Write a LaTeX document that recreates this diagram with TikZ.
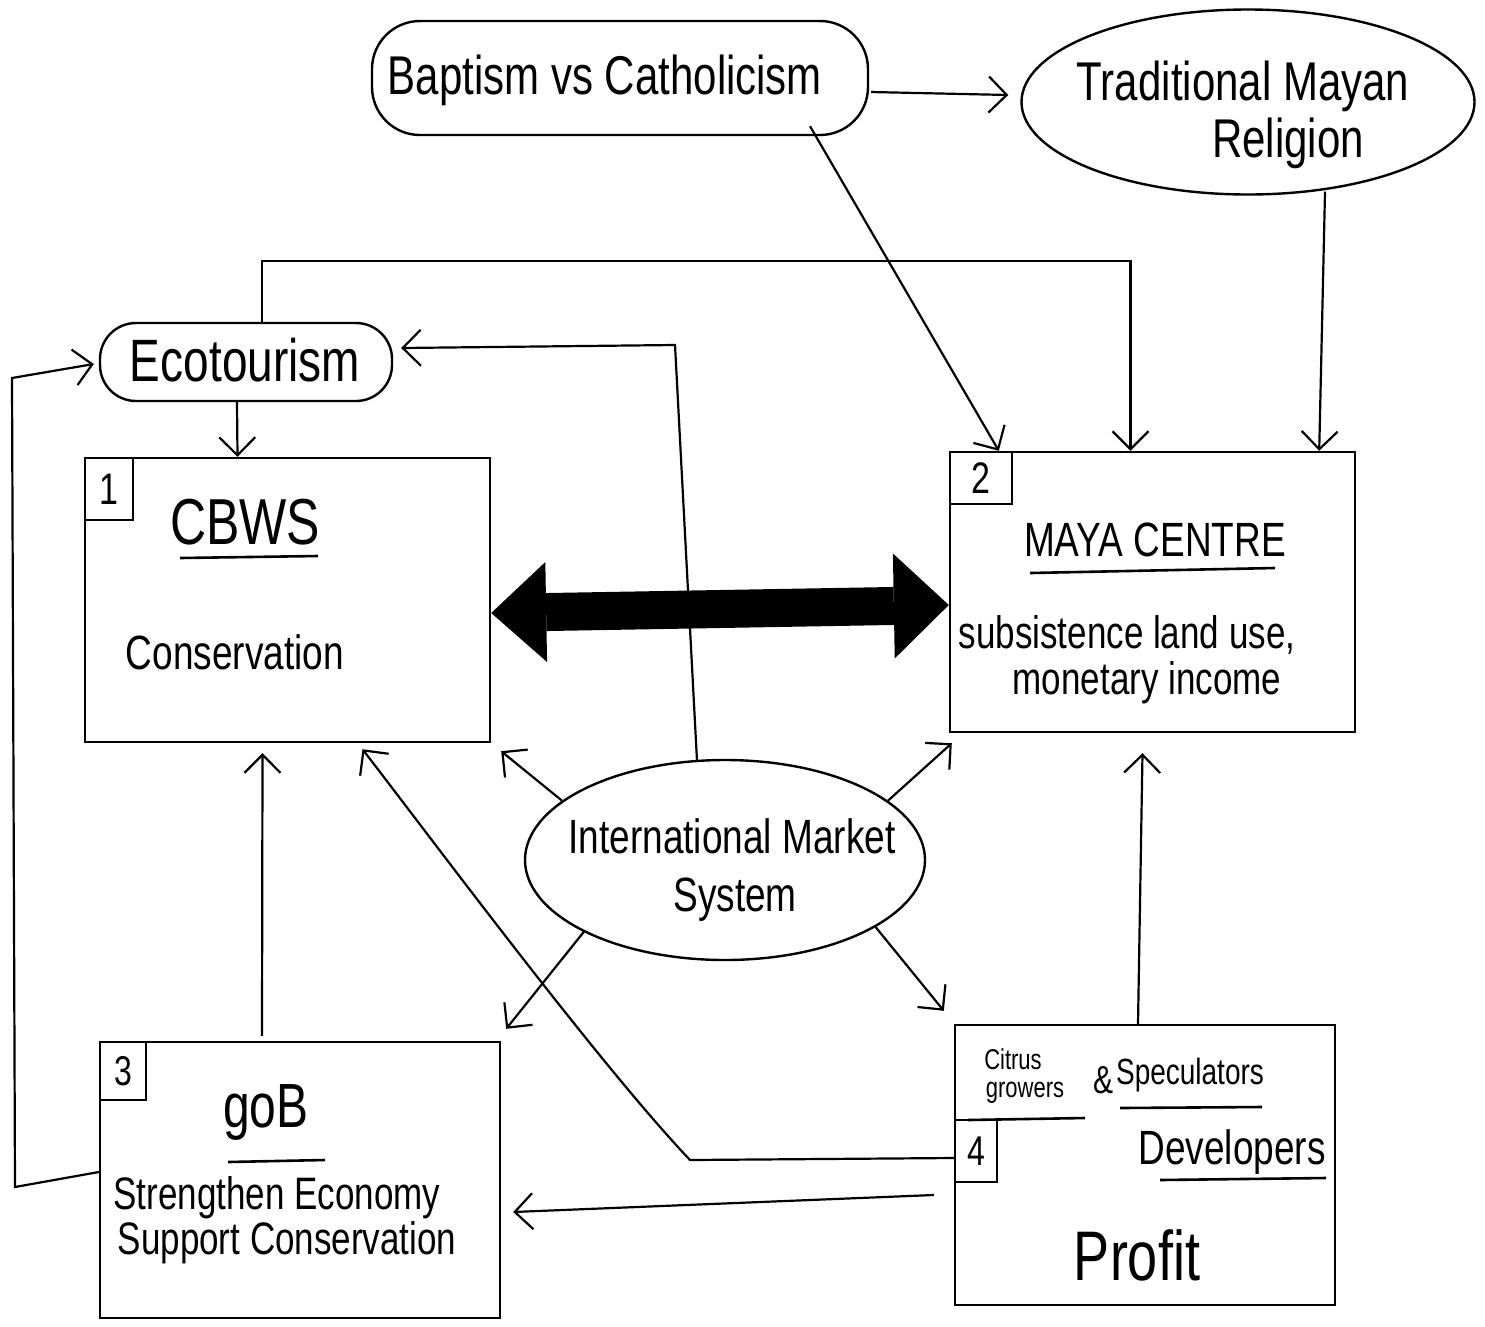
\documentclass[tikz,border=0pt]{standalone}
\usepackage{fontspec}
\usepackage{graphicx}
\setmainfont{Liberation Sans}
\usetikzlibrary{arrows.meta,shapes.geometric,calc}
\newcommand{\hw}[2]{{\fontsize{#1pt}{#1pt}\selectfont\scalebox{1}[1.3]{#2}}}
\begin{document}
\begin{tikzpicture}[x=1pt,y=-1pt,
  line width=2.4pt,
  box/.style={draw, rectangle, inner sep=0pt, line width=2.4pt},
  blob/.style={draw, inner sep=0pt, line width=2.4pt},
  numbox/.style={draw, rectangle, inner sep=0pt, line width=2.2pt},
  arr/.style={-{Straight Barb[length=18pt,width=36pt]}, line width=2.2pt},
  txt/.style={inner sep=0pt},
  uline/.style={line width=2.6pt}]
\useasboundingbox (0,0) rectangle (1485,1326);

% ovals
\node[blob, rectangle, rounded corners=48pt, minimum width=496pt, minimum height=114pt] (bap) at (620,78) {};
\node[txt] (bapT) at (605,80) {\hw{42}{Baptism vs Catholicism}};
\node[blob, ellipse, minimum width=453pt, minimum height=185pt] (trad) at (1248,102) {};
\node[txt] (tradT1) at (1243,86) {\hw{42}{Traditional Mayan}};
\node[txt] (tradT2) at (1288,143) {\hw{42}{Religion}};
\node[blob, rectangle, rounded corners=36pt, minimum width=292pt, minimum height=78pt] (eco) at (246,362) {};
\node[txt] (ecoT) at (245,360) {\hw{46}{Ecotourism}};
\node[blob, ellipse, minimum width=400pt, minimum height=200pt] (ims) at (725,860) {};
\node[txt] (imsT1) at (732,836) {\hw{37}{International Market}};
\node[txt] (imsT2) at (735,900) {\hw{37}{System}};

% boxes
\node[box, minimum width=405pt, minimum height=284pt] (cbws) at (287.5,600) {};
\node[numbox, anchor=north west, minimum width=48pt, minimum height=62pt] (n1) at (cbws.north west) {\hw{34}{1}};
\node[txt] (cbwsT) at (245,522) {\hw{50}{CBWS}};
\draw[uline] (180,558) -- (318,556);
\node[txt] (consT) at (235,652) {\hw{37}{Conservation}};

\node[box, minimum width=405pt, minimum height=280pt] (maya) at (1152.5,592) {};
\node[numbox, anchor=north west, minimum width=62pt, minimum height=52pt] (n2) at (maya.north west) {\hw{34}{2}};
\node[txt] (mayaT) at (1155,540) {\hw{37}{MAYA CENTRE}};
\draw[uline] (1030,573) -- (1275,568);
\node[txt] (mayaT2) at (1127,635) {\hw{35}{subsistence land use,}};
\node[txt] (mayaT3) at (1147,683) {\hw{35}{monetary income}};

\node[box, minimum width=400pt, minimum height=276pt] (gob) at (300,1180) {};
\node[numbox, anchor=north west, minimum width=46pt, minimum height=58pt] (n3) at (gob.north west) {\hw{32}{3}};
\node[txt] (gobT) at (266,1112) {\hw{48}{goB}};
\draw[uline] (228,1162) -- (325,1160);
\node[txt] (gobT2) at (277,1198) {\hw{35}{Strengthen Economy}};
\node[txt] (gobT3) at (287,1243) {\hw{35}{Support Conservation}};

\node[box, minimum width=380pt, minimum height=280pt] (dev) at (1145,1165) {};
\node[txt] (citT1) at (1013,1059) {\hw{22}{Citrus}};
\node[txt] (citT2) at (1025,1093) {\hw{22}{growers}};
\draw[uline] (968,1120) -- (1085,1118);
\node[txt] (ampT) at (1103,1080) {\hw{30}{\&}};
\node[txt] (specT) at (1190,1075) {\hw{28}{Speculators}};
\draw[uline] (1120,1108) -- (1262,1107);
\node[numbox, anchor=north west, minimum width=42pt, minimum height=62pt] (n4) at ($(dev.north west)+(0,95)$) {\hw{32}{4}};
\node[txt] (devT) at (1232,1152) {\hw{37}{Developers}};
\draw[uline] (1160,1180) -- (1326,1178);
\node[txt] (profT) at (1137,1255) {\hw{54}{Profit}};

% bend points
\coordinate (b1) at (675,345);
\coordinate (b2) at (15,1187);
\coordinate (b3) at (12,378);
\coordinate (b4) at (690,1160);

% connectors
\draw[arr] ($(bap.east)+(2,14)$) -- ($(trad.west)+(-12,-7)$);
\draw[arr] ($(bap.south)+(190,-10)$) -- ($(maya.north west)+(50,0)$);
\draw[arr] ($(trad.south)+(77,-4)$) -- ($(maya.north east)+(-37,0)$);
\draw[arr] ($(eco.north)+(16,0)$) -- ++(0,-61) -| ($(maya.north)+(-22,0)$);
\draw[arr] ($(eco.south)+(-9,0)$) -- ($(cbws.north)+(-50,0)$);
\draw[arr] ($(ims.north)+(-28,2)$) -- (b1) -- ($(eco.east)+(8,-14)$);
\draw[arr] ($(gob.west)+(0,-8)$) -- (b2) -- (b3) -- ($(eco.west)+(-5,2)$);
\draw[arr] ($(gob.north)+(-38,-5)$) -- ($(cbws.south)+(-25,10)$);
\draw[arr] ($(dev.west)+(0,-7)$) -- (b4) .. controls (600,1065) and (440,850) .. ($(cbws.south)+(75,6)$);
\draw[arr] ($(dev.west)+(-20,30)$) -- ($(gob.east)+(12,32)$);
\draw[arr] ($(dev.north)+(-7,0)$) -- ($(maya.south)+(-10,20)$);
\draw[arr] (ims.160) -- ($(cbws.south east)+(10,8)$);
\draw[arr] (ims.20) -- ($(maya.south west)+(3,10)$);
\draw[arr] (ims.207) -- ($(gob.north east)+(5,-12)$);
\draw[arr] (ims.336) -- ($(dev.north west)+(-10,-13)$);

% big double arrow
\draw[line width=38pt, {Triangle[length=55pt,width=100pt,line width=0pt]}-{Triangle[length=55pt,width=105pt,line width=0pt]}] ($(cbws.east)+(0,13)$) -- ($(maya.west)+(0,13)$);
\end{tikzpicture}
\end{document}
